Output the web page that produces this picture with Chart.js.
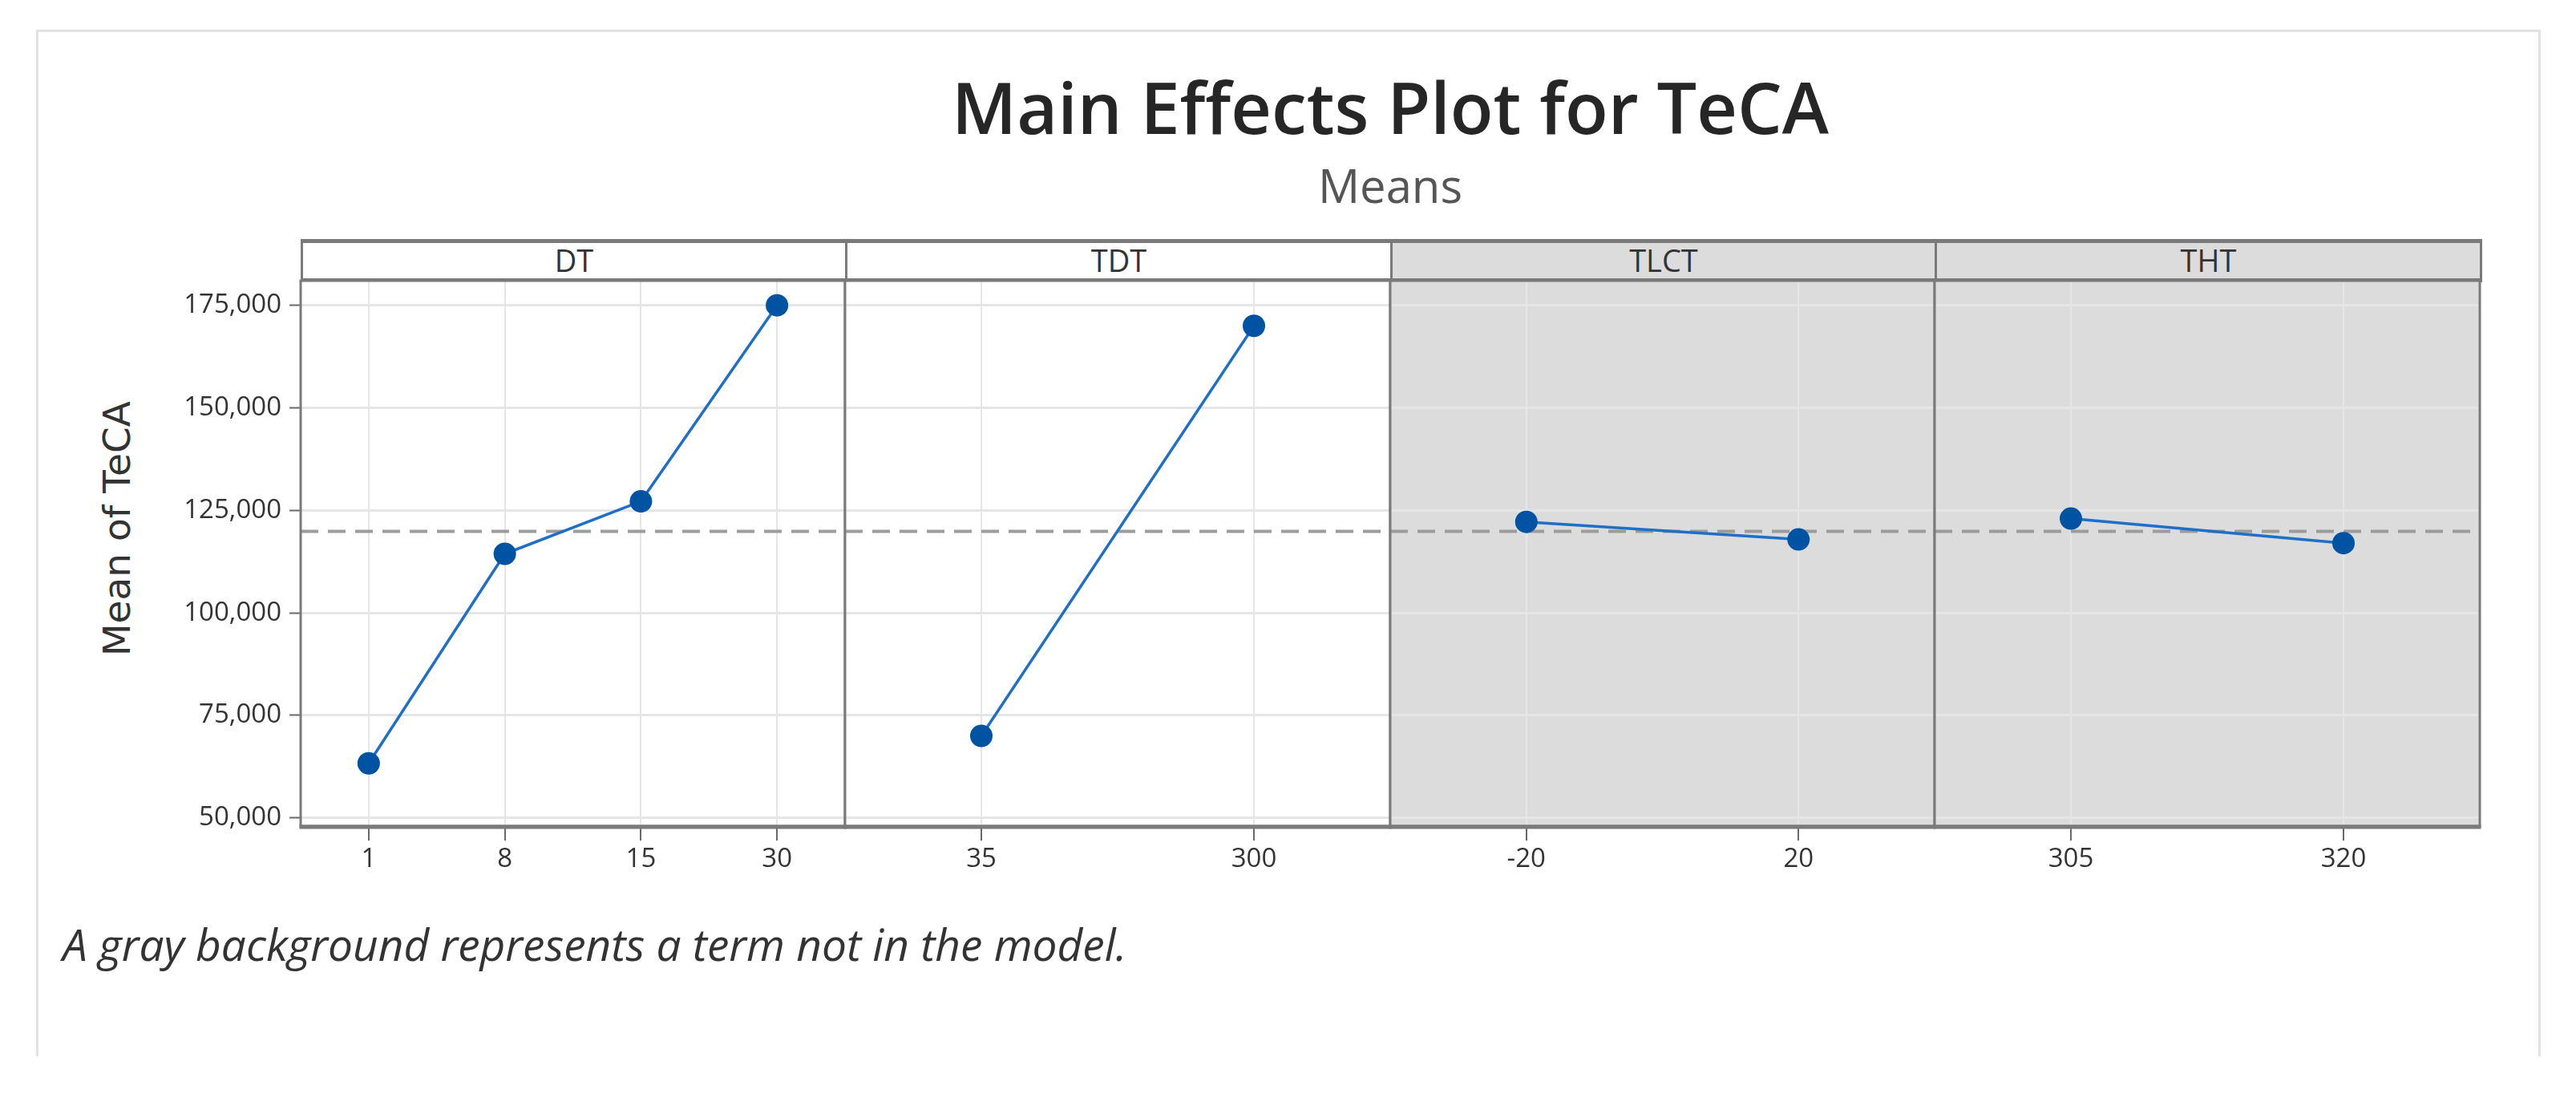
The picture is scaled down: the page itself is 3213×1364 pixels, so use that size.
<!DOCTYPE html>
<html><head><meta charset="utf-8">
<script src="https://cdn.jsdelivr.net/npm/chart.js@4.4.1/dist/chart.umd.min.js"></script>
<style>
html,body{margin:0;padding:0;background:#fff;}
#page{position:relative;width:3213px;height:1364px;overflow:hidden;font-family:'Open Sans',sans-serif;color:#333;}
.abs{position:absolute;}
#frame{left:45px;top:37px;width:3124px;height:1280px;border:3px solid #e3e3e3;border-bottom:none;box-sizing:border-box;}
#title{left:375px;width:2718px;top:74px;text-align:center;font-size:88px;font-weight:600;color:#262626;line-height:1.362;white-space:nowrap;}
#subtitle{left:375px;width:2718px;top:191px;text-align:center;font-size:58px;font-weight:400;color:#555;line-height:1.362;}
.strip{position:absolute;top:298px;height:54px;box-sizing:border-box;border:3px solid #7a7a7a;border-top-width:5px;border-bottom-width:5px;text-align:center;font-size:38px;line-height:42px;color:#333;}
#ytitle{left:145px;top:659px;transform:translate(-50%,-50%) rotate(-90deg);font-family:'DejaVu Sans',sans-serif;font-size:47px;color:#333;white-space:nowrap;}
#foot{left:78px;top:1140px;font-size:55px;font-style:italic;color:#333;white-space:nowrap;line-height:1.362;}
canvas{position:absolute;}
</style>
</head><body>
<div id="page">
  <div id="frame" class="abs"></div>
  <div id="title" class="abs">Main Effects Plot for TeCA</div>
  <div id="subtitle" class="abs">Means</div>
  <div id="ytitle" class="abs">Mean of TeCA</div>
  <div id="foot" class="abs">A gray background represents a term not in the model.</div>
</div>
<script>
// ---- data ----
const factors = ['DT', 'TDT', 'TLCT', 'THT'];
const dtLevels = ['1', '8', '15', '30'];
const dtMeans = [63300, 114400, 127200, 175000];
const tdtLevels = ['35', '300'];
const tdtMeans = [70000, 170000];
const tlctLevels = ['-20', '20'];
const tlctMeans = [122200, 117900];
const thtLevels = ['305', '320'];
const thtMeans = [123000, 117000];
const grandMean = 119900;
const inModel = [true, true, false, false];
const yTickValues = [50000, 75000, 100000, 125000, 150000, 175000];
const yMin = 48000;
const yMax = 181000;

// ---- layout ----
const edges = [375, 1054, 1734, 2413, 3093];
const panelTop = 350;
const PAD = 10;
const levelSets = [dtLevels, tdtLevels, tlctLevels, thtLevels];
const meanSets = [dtMeans, tdtMeans, tlctMeans, thtMeans];

const BORDER = '#7a7a7a';
const GRID = '#e6e6e6';
const GRAY_BG = '#dcdcdc';
const LINE = '#1f6fc6';
const POINT = '#0052a3';

const page = document.getElementById('page');

const panelPlugin = {
  id: 'panelDeco',
  beforeDraw(chart, args, opts) {
    const a = chart.chartArea, ctx = chart.ctx;
    ctx.save();
    ctx.fillStyle = opts.bg;
    ctx.fillRect(a.left, a.top, a.right - a.left, a.bottom - a.top);
    ctx.restore();
  },
  beforeDatasetsDraw(chart, args, opts) {
    const a = chart.chartArea, ctx = chart.ctx;
    const y = chart.scales.y.getPixelForValue(opts.mean);
    ctx.save();
    ctx.strokeStyle = '#9c9c9c';
    ctx.lineWidth = 4;
    ctx.setLineDash([22, 12]);
    ctx.beginPath();
    ctx.moveTo(a.left, y);
    ctx.lineTo(a.right, y);
    ctx.stroke();
    ctx.restore();
  },
  afterDraw(chart) {
    const a = chart.chartArea, ctx = chart.ctx;
    ctx.save();
    ctx.strokeStyle = BORDER;
    ctx.lineWidth = 3;
    ctx.strokeRect(a.left, a.top, a.right - a.left, a.bottom - a.top);
    ctx.beginPath();
    ctx.lineWidth = 5;
    ctx.moveTo(a.left - 1.5, a.bottom + 1);
    ctx.lineTo(a.right + 1.5, a.bottom + 1);
    ctx.stroke();
    ctx.restore();
  }
};

factors.forEach((name, i) => {
  const strip = document.createElement('div');
  strip.className = 'strip';
  strip.style.left = edges[i] + 'px';
  strip.style.width = (edges[i + 1] - edges[i] + 3) + 'px';
  strip.style.background = inModel[i] ? '#fff' : GRAY_BG;
  strip.textContent = name;
  page.appendChild(strip);

  const first = i === 0;
  const leftExtra = first ? 265 : PAD;
  const rightExtra = PAD;
  const cv = document.createElement('canvas');
  const left = edges[i] - leftExtra;
  const width = edges[i + 1] - edges[i] + leftExtra + rightExtra;
  const top = panelTop - PAD;
  const height = 790;
  cv.width = width; cv.height = height;
  cv.style.left = left + 'px'; cv.style.top = top + 'px';
  cv.style.width = width + 'px'; cv.style.height = height + 'px';
  page.appendChild(cv);

  new Chart(cv.getContext('2d'), {
    type: 'line',
    data: {
      labels: levelSets[i],
      datasets: [{
        data: meanSets[i],
        borderColor: LINE,
        borderWidth: 3.5,
        backgroundColor: POINT,
        pointBackgroundColor: POINT,
        pointBorderColor: POINT,
        pointBorderWidth: 0,
        pointRadius: 14,
        pointStyle: 'circle',
        tension: 0,
        fill: false,
        clip: false
      }]
    },
    options: {
      responsive: false,
      animation: false,
      devicePixelRatio: 1,
      events: [],
      layout: { autoPadding: false, padding: { top: PAD, left: first ? 0 : PAD, right: PAD, bottom: 0 } },
      plugins: {
        legend: { display: false },
        tooltip: { enabled: false },
        title: { display: false },
        panelDeco: { bg: inModel[i] ? '#ffffff' : GRAY_BG, mean: grandMean }
      },
      scales: {
        x: {
          type: 'category',
          offset: true,
          grid: { display: true, color: GRID, lineWidth: 2, drawTicks: true, tickLength: 18, tickColor: '#6a6a6a', tickWidth: 2, offset: false },
          border: { display: false },
          ticks: { color: '#333', font: { family: 'Open Sans', size: 33 }, padding: 4, maxRotation: 0, autoSkip: false },
          afterFit(s) { s.height = 100; s.paddingLeft = 0; s.paddingRight = 0; }
        },
        y: {
          type: 'linear',
          position: 'left',
          min: yMin, max: yMax,
          afterBuildTicks(s) { s.ticks = yTickValues.map(v => ({ value: v })); },
          grid: { display: true, color: GRID, lineWidth: 3, drawTicks: first, tickLength: 14, tickColor: '#6a6a6a', tickWidth: 2 },
          border: { display: false },
          ticks: {
            display: first,
            color: '#333',
            font: { family: 'Open Sans', size: 33 },
            padding: 10,
            callback: v => Number(v).toLocaleString('en-US')
          },
          afterFit(s) { s.width = first ? 265 : 0; s.paddingTop = 0; s.paddingBottom = 0; }
        }
      }
    },
    plugins: [panelPlugin]
  });
});
</script>
</body></html>
